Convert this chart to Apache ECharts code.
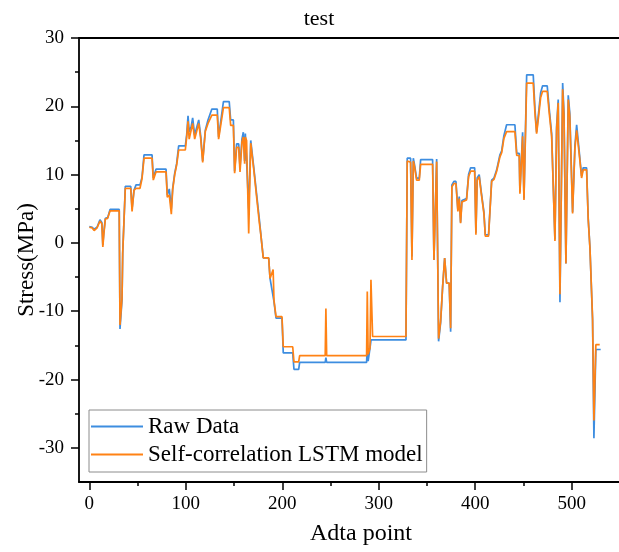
<!DOCTYPE html>
<html>
<head>
<meta charset="utf-8">
<script src="https://cdn.jsdelivr.net/npm/echarts@6/dist/echarts.min.js"></script>
<style>html,body{margin:0;padding:0;background:#fff}#c{width:619px;height:552px}</style>
</head>
<body>
<div id="c"></div>
<script>
const rawX = [0,3,5,8,11,13,14,15,16.6,19,21.5,31,31.8,33.9,34.6,37.3,42.9,44.3,46.3,48.4,52.5,54.6,56.7,65,66.3,69.1,79.5,80.8,82.9,85,86.4,88.5,90.5,92.6,99.5,100.9,102.3,103.5,105.5,107.1,109.2,111,113.4,115.5,117.5,120.2,123,127,132.6,134,136,139,145,146.5,149.3,150.6,152.7,154.8,156.2,158.2,159.6,161,161.7,163,165.2,167.3,169,170.7,172,173.5,175,176.2,177.6,180.3,185.9,187.3,189.3,191.4,193.5,199.7,201,210.8,212.1,217,218,244.5,245.2,246,287.4,288.1,289,290.9,292,328.2,329.5,331,333,334.4,335.8,337,339.2,342,343.4,355.8,357.2,360,362,364.1,366.2,368.3,370.3,373,374.5,375.8,377.9,380,382,383.4,384.8,386.2,391,393.1,395.2,399.4,400.7,402,404.1,406.2,409,410.4,413.8,417,419.4,422.2,425.6,427.4,429.7,432.5,441.1,443,445.6,446.3,449.1,450.5,451.9,453.3,460.1,461.9,463.6,465.4,467.8,469.8,474.6,476.7,479.2,481,482.6,484.3,486,487.8,490.6,492,494,496.4,498,500.9,503.3,505.1,506.5,508.5,510.2,511.9,515.4,517.1,518.9,520.6,521.6,523,525,530];
const rawY = [2.4,2.3,2.0,2.3,3.4,3.0,-0.3,1.5,3.6,3.7,4.9,4.9,-12.6,-8.3,-1.5,8.3,8.3,5.0,7.7,8.5,8.5,9.6,12.9,12.9,9.5,10.8,10.8,7.0,7.9,5.0,8.0,10.2,11.6,14.2,14.2,15.8,18.6,16.3,17.0,18.3,15.8,16.0,18.0,15.6,12.0,16.5,18.0,19.6,19.6,15.5,15.5,20.7,20.7,18.0,18.0,10.5,14.5,14.5,11.0,15.2,16.2,12.0,16.0,15.8,5.0,15.0,14.8,10.7,10.5,7.0,6.8,3.5,1.5,-2.2,-2.2,-5.2,-5.2,-8.6,-11.0,-11.0,-16.1,-16.1,-18.5,-18.5,-17.5,-17.5,-16.8,-17.5,-17.5,-15.0,-17.3,-15.4,-14.2,-14.2,12.4,12.4,12.4,-2.0,12.4,11.5,9.5,9.5,12.2,12.2,-2.5,12.3,-14.4,-11.7,-6.4,-2.2,-5.9,-5.9,-13.0,8.5,9.0,9.0,4.8,6.8,3.0,6.2,6.5,10.0,11.0,11.0,1.5,9.5,10.0,7.5,4.5,1.2,1.2,9.2,9.5,10.7,12.9,13.5,15.7,17.3,17.3,13.1,13.1,7.5,16.2,6.5,6.5,24.6,24.6,19.6,16.2,18.7,22.0,23.0,23.0,19.6,16.0,15.8,0.5,17.0,21.0,-8.7,23.4,19.0,-3.0,21.6,19.0,4.5,14.2,17.3,17.3,12.3,9.8,11.0,11.0,3.6,-0.7,-0.7,-11.3,-28.6,-15.6,-15.6];

const modelX = [0,3,5,8,11,13,14,15,16.6,19,21.5,31,31.8,33.9,34.6,37.3,42.9,44.3,46.3,48.4,52.5,54.6,56.7,65,66.3,69.1,79.5,80.8,82.9,85,86.4,88.5,90.5,92.6,99.5,100.9,102.3,103.5,105.5,107.1,109.2,111,113.4,115.5,117.5,120.2,123,127,132.6,134,136,139,145,146.5,149.3,150.6,152.7,154.8,156.2,158.2,159.6,161,161.7,163,165.2,167.3,169,170.7,172,173.5,175,176.2,177.6,180.3,185.9,187.3,189.3,190.5,191.4,193.5,199.7,201,210.8,212.1,217,218,244.5,245.2,246,287.4,288.1,289,290.9,291.9,293.6,328.2,329.5,331,333,334.4,335.8,337,339.2,342,343.4,355.8,357.2,360,362,364.1,366.2,368.3,370.3,373,374.5,375.8,377.9,380,382,383.4,384.8,386.2,391,393.1,395.2,399.4,400.7,402,404.1,406.2,409,410.4,413.8,417,419.4,422.2,425.6,427.4,429.7,432.5,441.1,443,445.6,446.3,449.1,450.5,451.9,453.3,460.1,461.9,463.6,465.4,467.8,469.8,474.6,476.7,479.2,481,482.6,484.3,486,487.8,490.6,492,494,496.4,498,500.9,503.3,505.1,506.5,508.5,510.2,511.9,515.4,517.1,518.9,520.6,521.6,523,525,529];
const modelY = [2.3,2.2,1.8,2.2,3.2,2.8,-0.6,1.2,3.5,3.6,4.7,4.7,-12.0,-8.0,-1.5,8.0,8.0,4.6,7.7,8.0,8.0,9.4,12.4,12.4,9.2,10.4,10.4,6.7,7.0,4.2,7.8,10.0,11.4,13.6,13.6,15.5,17.8,15.2,16.5,17.5,15.2,15.4,17.5,15.2,11.8,16.3,17.5,18.7,18.7,15.2,15.2,19.8,19.8,17.2,17.2,10.2,14.0,14.0,10.4,14.8,15.5,11.6,15.5,15.0,1.4,14.6,14.5,10.4,10.4,6.6,6.5,3.0,1.4,-2.2,-2.2,-5.2,-5.2,-3.9,-8.4,-10.8,-10.8,-15.2,-15.2,-17.4,-17.4,-16.5,-16.5,-9.6,-16.5,-16.5,-7.1,-16.3,-15.4,-5.4,-13.7,-13.7,12.0,12.0,11.8,-2.5,12.0,11.2,9.2,9.2,11.5,11.5,-2.5,11.9,-14.0,-11.5,-6.4,-2.2,-5.9,-5.9,-12.5,8.2,8.7,8.7,4.6,6.5,2.9,6.0,6.3,9.7,10.5,10.5,1.2,9.2,9.7,7.3,4.3,1.0,1.0,9.0,9.3,10.5,12.6,13.2,15.3,16.3,16.3,12.8,12.8,7.2,15.6,6.3,6.3,23.4,23.4,19.0,16.0,18.2,21.3,22.2,22.2,19.0,15.6,15.5,0.3,16.5,20.5,-7.5,22.5,18.5,-3.0,21.0,18.5,4.3,13.8,16.5,16.5,12.0,9.5,10.7,10.7,3.4,-0.8,-0.8,-11.0,-26.0,-14.9,-14.9];

const xLabelValues = [0,100,200,300,400,500];
const xMinorValues = [50,150,250,350,450];
const yLabelValues = [-30,-20,-10,0,10,20,30];
const yMinorValues = [-25,-15,-5,5,15,25];

const FONT = '"Liberation Serif", "DejaVu Serif", serif';
const pair = (xs, ys) => xs.map((x, i) => [x, ys[i]]);

const chart = echarts.init(document.getElementById('c'), null, {renderer: 'canvas'});
const X_MIN = -10.7, X_MAX = 549, Y_MIN = -35, Y_MAX = 30;
const axisLineStyle = {color: '#000', width: 1.8};

chart.setOption({
  animation: false,
  backgroundColor: '#fff',
  title: {
    text: 'test', left: 314, top: 3, textAlign: 'center',
    textStyle: {fontFamily: FONT, fontSize: 22, fontWeight: 'normal', color: '#000'}
  },
  grid: {left: 79, right: 0, top: 38, bottom: 70, containLabel: false, outerBoundsMode: 'none'},
  legend: {
    orient: 'vertical', left: 89, top: 410,
    data: ['Raw Data', 'Self-correlation LSTM model'],
    icon: 'rect', itemWidth: 52, itemHeight: 2, itemGap: 5,
    borderColor: '#8c8c8c', borderWidth: 1, padding: [5, 4, 6, 2],
    textStyle: {fontFamily: FONT, fontSize: 23, color: '#000'}
  },
  xAxis: [
    {
      type: 'value', position: 'bottom', min: X_MIN, max: X_MAX,
      name: 'Adta point', nameLocation: 'middle', nameGap: 40, nameMoveOverlap: false,
      nameTextStyle: {fontFamily: FONT, fontSize: 24, color: '#000', padding: [0, 0, 0, 24]},
      axisLine: {show: true, onZero: false, lineStyle: axisLineStyle},
      axisTick: {show: true, inside: false, length: 8, customValues: xLabelValues, lineStyle: {color: '#000', width: 1.5}},
      axisLabel: {customValues: xLabelValues, margin: 13, fontFamily: FONT, fontSize: 19, color: '#000'},
      splitLine: {show: false}
    },
    {
      type: 'value', position: 'bottom', min: X_MIN, max: X_MAX,
      axisLine: {show: false, onZero: false},
      axisTick: {show: true, length: 4, customValues: xMinorValues, lineStyle: {color: '#000', width: 1.5}},
      axisLabel: {show: false}, splitLine: {show: false}
    },
    {
      type: 'value', position: 'top', min: X_MIN, max: X_MAX,
      axisLine: {show: true, onZero: false, lineStyle: axisLineStyle},
      axisTick: {show: false}, axisLabel: {show: false}, splitLine: {show: false}
    }
  ],
  yAxis: [
    {
      type: 'value', position: 'left', min: Y_MIN, max: Y_MAX,
      name: 'Stress(MPa)', nameLocation: 'middle', nameGap: 41, nameRotate: 90, nameMoveOverlap: false,
      nameTextStyle: {fontFamily: FONT, fontSize: 23, color: '#000'},
      axisLine: {show: true, onZero: false, lineStyle: axisLineStyle},
      axisTick: {show: true, length: 8, customValues: yLabelValues, lineStyle: {color: '#000', width: 1.5}},
      axisLabel: {customValues: yLabelValues, margin: 15, fontFamily: FONT, fontSize: 19, color: '#000'},
      splitLine: {show: false}
    },
    {
      type: 'value', position: 'left', min: Y_MIN, max: Y_MAX,
      axisLine: {show: false, onZero: false},
      axisTick: {show: true, length: 4, customValues: yMinorValues, lineStyle: {color: '#000', width: 1.5}},
      axisLabel: {show: false}, splitLine: {show: false}
    }
  ],
  series: [
    {
      name: 'Raw Data', type: 'line', xAxisIndex: 0, yAxisIndex: 0,
      data: pair(rawX, rawY), showSymbol: false, symbol: 'none',
      lineStyle: {color: '#3d8de0', width: 1.7}, itemStyle: {color: '#3d8de0'}
    },
    {
      name: 'Self-correlation LSTM model', type: 'line', xAxisIndex: 0, yAxisIndex: 0,
      data: pair(modelX, modelY), showSymbol: false, symbol: 'none',
      lineStyle: {color: '#ff8214', width: 1.7}, itemStyle: {color: '#ff8214'}
    }
  ]
});
</script>
</body>
</html>
